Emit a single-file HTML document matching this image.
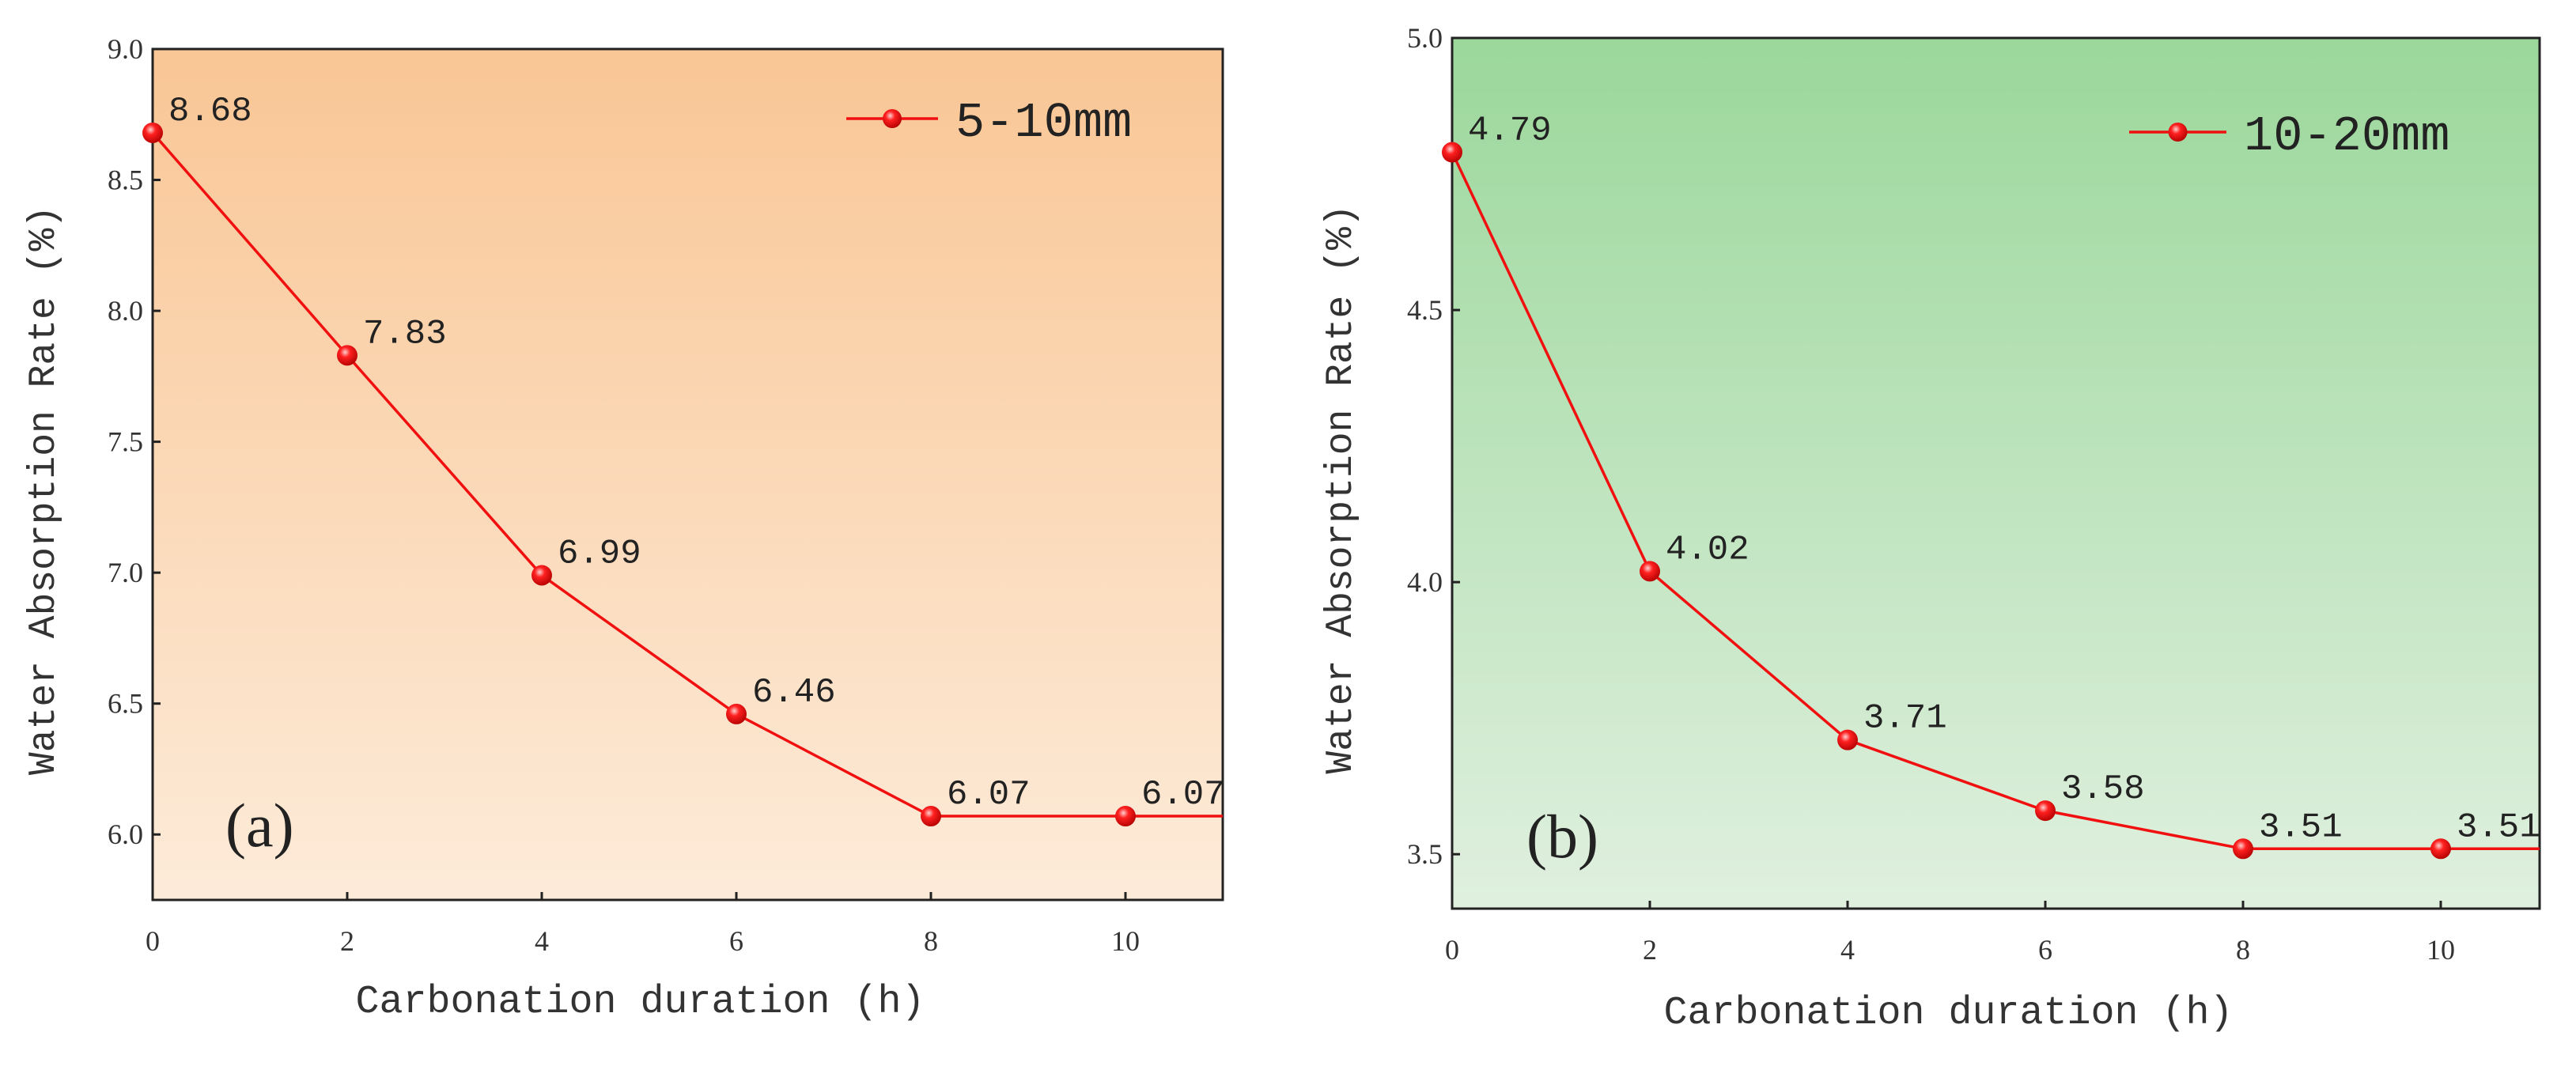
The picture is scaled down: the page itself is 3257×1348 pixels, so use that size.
<!DOCTYPE html>
<html><head><meta charset="utf-8"><style>
html,body{margin:0;padding:0;background:#fff;}
svg{display:block;}
</style></head><body>
<svg id="chart" width="3257" height="1348" xmlns="http://www.w3.org/2000/svg">
<defs>
<linearGradient id="bgA" x1="0" y1="0" x2="0" y2="1"><stop offset="0" stop-color="#f9c695"/><stop offset="1" stop-color="#fdebd9"/></linearGradient>
<linearGradient id="bgB" x1="0" y1="0" x2="0" y2="1"><stop offset="0" stop-color="#9bd79b"/><stop offset="1" stop-color="#e0f0df"/></linearGradient>
<radialGradient id="mk" cx="0.4" cy="0.35" r="0.7"><stop offset="0" stop-color="#ffd0d0"/><stop offset="0.35" stop-color="#ff2020"/><stop offset="1" stop-color="#b00000"/></radialGradient>
</defs>
</svg>
<script>
const categories = [0, 2, 4, 6, 8, 10];
const seriesA = [8.68, 7.83, 6.99, 6.46, 6.07, 6.07];
const seriesB = [4.79, 4.02, 3.71, 3.58, 3.51, 3.51];
const labelsA = ["8.68", "7.83", "6.99", "6.46", "6.07", "6.07"];
const labelsB = ["4.79", "4.02", "3.71", "3.58", "3.51", "3.51"];
const yTicksA = [6.0, 6.5, 7.0, 7.5, 8.0, 8.5, 9.0];
const yTicksB = [3.5, 4.0, 4.5, 5.0];
const xTicks = [0, 2, 4, 6, 8, 10];

const NS = "http://www.w3.org/2000/svg";
const svg = document.getElementById('chart');
function mk(tag, attrs, parent) {
  const e = document.createElementNS(NS, tag);
  for (const k in attrs) e.setAttribute(k, attrs[k]);
  (parent || svg).appendChild(e);
  return e;
}

function panel(cfg) {
  const g = mk('g', {});
  
  
  const xs = v => cfg.L + (v - 0) / 11 * (cfg.R - cfg.L);
  const ys = v => cfg.B - (v - cfg.ymin) / (cfg.ymax - cfg.ymin) * (cfg.B - cfg.T);
  const bg = mk('rect', {x: cfg.L, y: cfg.T, width: cfg.R - cfg.L, height: cfg.B - cfg.T, fill: cfg.fill, stroke: '#222', 'stroke-width': 3}, g);
  
  
  cfg.yTicks.forEach(v => {
    const y = ys(v);
    const t = mk('line', {x1: cfg.L, x2: cfg.L + 10, y1: y, y2: y, stroke: '#222', 'stroke-width': 3}, g);
    
    
    const tx = mk('text', {x: cfg.L - 12, y: y + 12, 'text-anchor': 'end', 'font-family': 'Liberation Serif, serif', 'font-size': 36, fill: '#333'}, g);
    tx.textContent = v.toFixed(1);
    
    
  });
  xTicks.forEach(v => {
    const x = xs(v);
    const t = mk('line', {x1: x, x2: x, y1: cfg.B, y2: cfg.B - 10, stroke: '#222', 'stroke-width': 3}, g);
    
    
    const tx = mk('text', {x: x, y: cfg.B + 64, 'text-anchor': 'middle', 'font-family': 'Liberation Serif, serif', 'font-size': 36, fill: '#333'}, g);
    tx.textContent = v;
    
    
  });
  let d = '';
  categories.forEach((c, i) => { d += (i ? 'L' : 'M') + xs(c) + ',' + ys(cfg.data[i]) + ' '; });
  d += 'L' + cfg.R + ',' + ys(cfg.data[cfg.data.length - 1]);
  const p = mk('path', {d: d, fill: 'none', stroke: '#f01010', 'stroke-width': 3.5}, g);
  
  
  categories.forEach((c, i) => {
    const x = xs(c), y = ys(cfg.data[i]);
    const m = mk('circle', {cx: x, cy: y, r: 13, fill: 'url(#mk)'}, g);
    
    
    const lb = mk('text', {x: x + 20, y: y - 16, 'font-family': 'Liberation Mono, monospace', 'font-size': 44, fill: '#222'}, g);
    lb.textContent = cfg.labels[i];
    
    
  });
  const yt = mk('text', {x: 0, y: 0, transform: 'translate(' + cfg.ytX + ',' + ((cfg.T + cfg.B) / 2 + 20) + ') rotate(-90)', 'text-anchor': 'middle', 'font-family': 'Liberation Mono, monospace', 'font-size': 48, fill: '#333'}, g);
  yt.textContent = 'Water Absorption Rate (%)';
  
  
  const xt = mk('text', {x: (cfg.L + cfg.R) / 2 - 60, y: cfg.xtY, 'text-anchor': 'middle', 'font-family': 'Liberation Mono, monospace', 'font-size': 50, fill: '#333'}, g);
  xt.textContent = 'Carbonation duration (h)';
  
  
  const pl = mk('text', {x: cfg.plX, y: cfg.plY, 'font-family': 'Liberation Serif, serif', 'font-size': 78, fill: '#222'}, g);
  pl.textContent = cfg.panelLabel;
  
  
  const lg = mk('g', {}, g);
  
  
  mk('line', {x1: cfg.lgX1, x2: cfg.lgX2, y1: cfg.lgY, y2: cfg.lgY, stroke: '#f01010', 'stroke-width': 3.5}, lg);
  mk('circle', {cx: (cfg.lgX1 + cfg.lgX2) / 2, cy: cfg.lgY, r: 12, fill: 'url(#mk)'}, lg);
  const lt = mk('text', {x: cfg.lgX2 + 22, y: cfg.lgY + 22, 'font-family': 'Liberation Mono, monospace', 'font-size': 62, fill: '#222'}, lg);
  lt.textContent = cfg.legend;
}

panel({id: 'panel-a', L: 193, R: 1546, T: 62, B: 1138, ymin: 5.75, ymax: 9.0, data: seriesA, labels: labelsA, yTicks: yTicksA,
  fill: 'url(#bgA)', ytX: 68, xtY: 1280, panelLabel: '(a)', plX: 285, plY: 1070, lgX1: 1070, lgX2: 1186, lgY: 150, legend: '5-10mm'});
panel({id: 'panel-b', L: 1836, R: 3211, T: 48, B: 1149, ymin: 3.4, ymax: 5.0, data: seriesB, labels: labelsB, yTicks: yTicksB,
  fill: 'url(#bgB)', ytX: 1708, xtY: 1294, panelLabel: '(b)', plX: 1930, plY: 1084, lgX1: 2692, lgX2: 2815, lgY: 167, legend: '10-20mm'});
</script>
</body></html>
